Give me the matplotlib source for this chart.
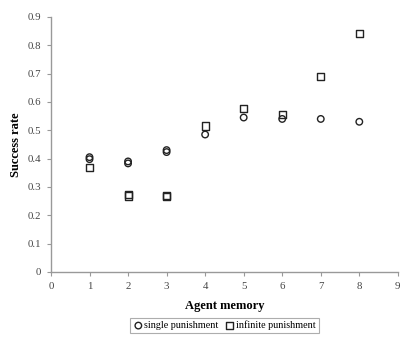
import matplotlib.pyplot as plt

plt.rcParams['font.family'] = ['Liberation Serif', 'DejaVu Serif']

# agent memory vs success rate (repeated runs overlap at 1-3)
x_single = [1, 1, 2, 2, 3, 3, 4, 5, 6, 7, 8]
y_single = [0.398, 0.405, 0.383, 0.390, 0.423, 0.430, 0.485, 0.545, 0.540, 0.540, 0.530]
x_inf = [1, 2, 2, 3, 3, 4, 5, 6, 7, 8]
y_inf = [0.370, 0.268, 0.272, 0.265, 0.270, 0.515, 0.578, 0.557, 0.690, 0.843]

xticks = list(range(0, 10))
yticks = [0, 0.1, 0.2, 0.3, 0.4, 0.5, 0.6, 0.7, 0.8, 0.9]

fig = plt.figure(figsize=(4.11, 3.54), dpi=100)
ax = fig.add_axes([0.124, 0.232, 0.844, 0.72])

ax.scatter(x_single, y_single, marker='o', s=22, facecolors='none',
           edgecolors='#222222', linewidths=1.0, label='single punishment')
ax.scatter(x_inf, y_inf, marker='s', s=26, facecolors='none',
           edgecolors='#222222', linewidths=1.0, label='infinite punishment')

ax.set_xlim(0, 9)
ax.set_ylim(0, 0.9)
ax.set_xticks(xticks)
ax.set_yticks(yticks)
ax.set_yticklabels(['0'] + ['%.1f' % v for v in yticks[1:]])

for side in ['top', 'right']:
    ax.spines[side].set_visible(False)
for side in ['left', 'bottom']:
    ax.spines[side].set_color('#999999')
    ax.spines[side].set_linewidth(1.0)
ax.tick_params(direction='out', length=3, width=0.8, color='#999999',
               labelsize=7.8, labelcolor='#444444', pad=4)

ax.set_xlabel('Agent memory', fontsize=9, fontweight='bold', labelpad=7)
ax.set_ylabel('Success rate', fontsize=9, fontweight='bold', labelpad=4)

leg = ax.legend(loc='center', bbox_to_anchor=(0.5, -0.21), ncol=2,
                fontsize=7.3, frameon=True, fancybox=False, handletextpad=0.1,
                columnspacing=0.6, borderpad=0.3, handlelength=1.0,
                borderaxespad=0)
leg.get_frame().set_edgecolor('#999999')
leg.get_frame().set_linewidth(0.8)

plt.savefig('out.png', dpi=100)
